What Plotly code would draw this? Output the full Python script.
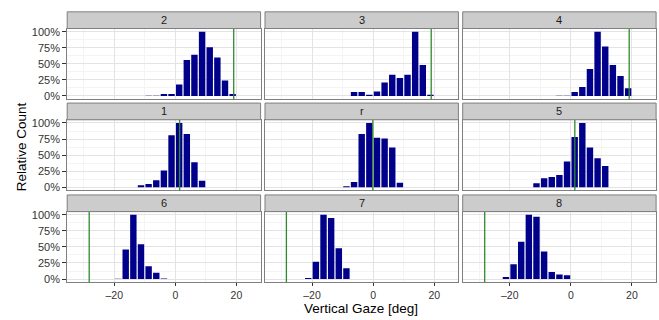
import plotly.graph_objects as go

W, H = 659, 320

# ---- data ----
panel_labels = ["2", "3", "4", "1", "r", "5", "6", "7", "8"]
bin_centers = [-23.75, -21.25, -18.75, -16.25, -13.75, -11.25, -8.75, -6.25, -3.75, -1.25,
               1.25, 3.75, 6.25, 8.75, 11.25, 13.75, 16.25, 18.75, 21.25]
counts_2 = [0, 0, 0, 0, 0, 0, 0.5, 0.5, 3, 3, 18, 56, 64, 100, 76, 60, 24, 3, 0]
counts_3 = [0, 0, 0, 0, 0, 0, 0, 6, 6, 2, 7, 21, 33, 28, 33, 100, 48, 2, 0]
counts_4 = [0, 0, 0, 0, 0, 0, 0, 0, 0.5, 0.5, 6, 14, 42, 100, 77, 48, 31, 12, 0]
counts_1 = [0, 0, 0, 0, 0, 3, 5, 11, 26, 81, 100, 83, 39, 10, 0, 0, 0, 0, 0]
counts_r = [0, 0, 0, 0, 0, 0, 1.5, 8, 83, 100, 77, 76, 62, 7, 0, 0, 0, 0, 0]
counts_5 = [0, 0, 0, 0, 0, 6, 14, 16, 19, 40, 78, 100, 62, 45, 33, 0, 0, 0, 0]
counts_6 = [0, 0, 0.4, 46, 100, 54, 20, 10, 1, 0, 0, 0, 0, 0, 0, 0, 0, 0, 0]
counts_7 = [0, 1.5, 27, 100, 95, 48, 17, 0, 0, 0, 0, 0, 0, 0, 0, 0, 0, 0, 0]
counts_8 = [0, 3, 23, 58, 100, 97, 43, 11, 7, 6, 0, 0, 0, 0, 0, 0, 0, 0, 0]
ref_lines = [19.1, 19.0, 19.1, 1.4, -0.1, 1.3, -28.2, -28.4, -28.2]
x_ticks = [-20, 0, 20]
x_ticktext = ["\u201320", "0", "20"]
y_ticks = [0, 25, 50, 75, 100]
y_ticktext = ["0%", "25%", "50%", "75%", "100%"]

all_counts = [counts_2, counts_3, counts_4, counts_1, counts_r, counts_5,
              counts_6, counts_7, counts_8]

# ---- layout geometry (pixels) ----
col_left = [67.2, 265.0, 462.7]
col_w = 193.4
row_top = [26.0, 119.0, 212.6]
row_h = 72.0
strip_h = 17.0

def px(x):
    return x / W

def py(y):
    return 1 - y / H

fig = go.Figure()
layout = dict(
    width=W, height=H,
    margin=dict(l=0, r=0, t=0, b=0),
    paper_bgcolor="white", plot_bgcolor="white",
    showlegend=False,
    font=dict(family="Liberation Sans, Arial, sans-serif", color="#333333"),
)
shapes = []
annotations = []

for i, (lab, vals, ref) in enumerate(zip(panel_labels, all_counts, ref_lines)):
    r, c = divmod(i, 3)
    n = "" if i == 0 else str(i + 1)
    xa, ya = "x" + n, "y" + n
    xs = [b for b, v in zip(bin_centers, vals) if v > 0]
    ys = [v for v in vals if v > 0]
    fig.add_trace(go.Bar(x=xs, y=ys, width=2.1, xaxis=xa, yaxis=ya,
                         marker=dict(color="#00008B", line=dict(width=0)),
                         hoverinfo="skip"))
    x0, x1 = col_left[c], col_left[c] + col_w
    y0, y1 = row_top[r], row_top[r] + row_h
    layout["xaxis" + n] = dict(
        domain=[px(x0), px(x1)], anchor=ya, range=[-35.4, 27.9],
        tickvals=x_ticks, ticktext=x_ticktext, showticklabels=(r == 2),
        ticks="outside" if r == 2 else "", ticklen=3, tickcolor="#333333",
        tickfont=dict(size=10.5, color="#333333"),
        showgrid=True, gridcolor="#E3E3E3", gridwidth=1,
        minor=dict(tickvals=[-30, -10, 10], showgrid=True, gridcolor="#F4F4F4", gridwidth=1),
        zeroline=False, showline=True, mirror=True, linecolor="#7F7F7F", linewidth=1,
        fixedrange=True,
    )
    layout["yaxis" + n] = dict(
        domain=[py(y1), py(y0)], anchor=xa, range=[-5, 105],
        tickvals=y_ticks, ticktext=y_ticktext, showticklabels=(c == 0),
        ticks="outside" if c == 0 else "", ticklen=4, tickcolor="#333333",
        tickfont=dict(size=11, color="#333333"),
        showgrid=True, gridcolor="#E3E3E3", gridwidth=1,
        minor=dict(tickvals=[12.5, 37.5, 62.5, 87.5], showgrid=True, gridcolor="#F4F4F4", gridwidth=1),
        zeroline=False, showline=True, mirror=True, linecolor="#7F7F7F", linewidth=1,
        fixedrange=True,
    )
    # reference line
    shapes.append(dict(type="line", xref=xa, yref=ya + " domain", x0=ref, x1=ref, y0=0, y1=1,
                       line=dict(color="#2E8B2E", width=1.3)))
    # strip
    shapes.append(dict(type="rect", xref="paper", yref="paper",
                       x0=px(x0), x1=px(x1), y0=py(y0), y1=py(y0 - strip_h),
                       fillcolor="#CCCCCC", line=dict(color="#7F7F7F", width=1), layer="above"))
    annotations.append(dict(text=lab, xref="paper", yref="paper",
                            x=px((x0 + x1) / 2), y=py(y0 - strip_h / 2),
                            showarrow=False, xanchor="center", yanchor="middle",
                            font=dict(size=11, color="#1A1A1A")))

annotations.append(dict(text="Vertical Gaze [deg]", xref="paper", yref="paper",
                        x=px(361.5), y=py(311.5), showarrow=False,
                        xanchor="center", yanchor="middle",
                        font=dict(size=13.5, color="#000000")))
annotations.append(dict(text="Relative Count", xref="paper", yref="paper",
                        x=px(21), y=py(147), showarrow=False, textangle=-90,
                        xanchor="center", yanchor="middle",
                        font=dict(size=13.5, color="#000000")))

layout["shapes"] = shapes
layout["annotations"] = annotations
layout["bargap"] = 0.2
fig.update_layout(**layout)
fig.write_html("out.html", config={"displayModeBar": False, "staticPlot": True},
               post_script="document.body.style.margin='0';document.body.style.padding='0';")
